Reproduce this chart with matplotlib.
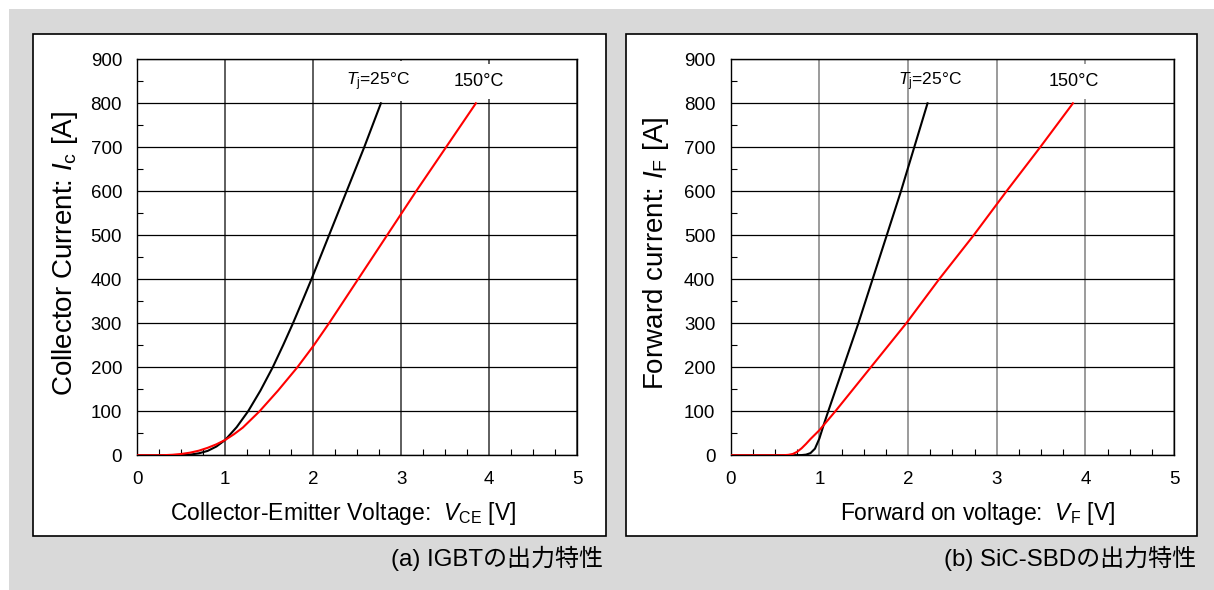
import matplotlib
matplotlib.use("Agg")
import matplotlib.pyplot as plt
from matplotlib.patches import Rectangle
from matplotlib.ticker import MultipleLocator

plt.rcParams['font.family'] = ['Liberation Sans', 'Noto Sans CJK JP', 'DejaVu Sans']
plt.rcParams['mathtext.fontset'] = 'custom'
plt.rcParams['mathtext.rm'] = 'Liberation Sans'
plt.rcParams['mathtext.it'] = 'Liberation Sans:italic'

# ---- data ----
igbt_25_v = [0, 0.3, 0.5, 0.6, 0.7, 0.8, 0.9, 1.0, 1.13, 1.26, 1.40, 1.54, 1.66, 1.77, 1.88, 1.98, 2.18, 2.38, 2.58, 2.77]
igbt_25_i = [0, 0, 0.4, 1.5, 4.5, 10, 20, 35, 64, 100, 147, 200, 251, 300, 352, 400, 500, 600, 700, 800]
igbt_150_v = [0, 0.2, 0.3, 0.4, 0.5, 0.6, 0.7, 0.8, 0.9, 1.0, 1.1, 1.2, 1.39, 1.6, 1.82, 2.0, 2.18, 2.51, 2.84, 3.17, 3.51, 3.85]
igbt_150_i = [0, 0, 0.3, 1.2, 3, 6, 10.5, 17, 25, 35, 48, 63, 100, 147, 200, 248, 300, 400, 500, 600, 700, 800]

sbd_25_v = [0, 0.5, 0.7, 0.8, 0.85, 0.9, 0.95, 1.0, 1.05, 1.10, 1.27, 1.44, 1.60, 1.76, 1.92, 2.07, 2.22]
sbd_25_i = [0, 0, 0.2, 0.5, 1.5, 5, 15, 38, 70, 100, 200, 300, 400, 500, 600, 700, 800]
sbd_150_v = [0, 0.5, 0.6, 0.65, 0.7, 0.75, 0.8, 0.85, 0.9, 0.95, 1.0, 1.18, 1.58, 1.98, 2.35, 2.74, 3.11, 3.49, 3.86]
sbd_150_i = [0, 0, 0.3, 1, 3, 8, 16, 26, 37, 47, 57, 100, 200, 300, 400, 500, 600, 700, 800]

x_ticks = [0, 1, 2, 3, 4, 5]
y_ticks = [0, 100, 200, 300, 400, 500, 600, 700, 800, 900]

label_25 = r'$T_{\mathrm{j}}$=25°C'
label_150 = '150°C'

W, H = 1214, 590
fig = plt.figure(figsize=(W / 100, H / 100), dpi=100)
fig.patch.set_facecolor('white')

def fx(px):
    return px / W

def fy(py):
    return 1 - py / H

# grey background and white panels
fig.add_artist(Rectangle((fx(9), 0), fx(W - 9), fy(9), transform=fig.transFigure,
                         facecolor='#d9d9d9', edgecolor='none', zorder=-2))
for x0, x1 in [(33, 606), (626, 1197)]:
    fig.add_artist(Rectangle((fx(x0), fy(536)), fx(x1 - x0), fy(34) - fy(536),
                             transform=fig.transFigure, facecolor='white',
                             edgecolor='black', linewidth=1.2, zorder=-1))

def make_axes(x0, x1, v25, i25, v150, i150, xlabel, ylabel, xlab_x, ylab_x, vgrid_color, pos25, pos150, box25):
    ax = fig.add_axes([fx(x0), fy(455.3), fx(x1 - x0), fy(59.3) - fy(455.3)])
    ax.set_zorder(1)
    ax.set_facecolor('white')
    ax.set_xlim(x_ticks[0], x_ticks[-1])
    ax.set_ylim(y_ticks[0], y_ticks[-1])
    ax.set_xticks(x_ticks)
    ax.set_yticks(y_ticks)
    ax.xaxis.set_minor_locator(MultipleLocator(0.25))
    ax.yaxis.set_minor_locator(MultipleLocator(50))
    ax.tick_params(which='both', direction='in', top=False, right=False)
    ax.tick_params(which='major', length=0, labelsize=13.5, colors='black')
    ax.tick_params(axis='y', which='major', pad=11)
    ax.tick_params(axis='x', which='major', pad=11)
    ax.tick_params(which='minor', length=4.5, width=0.8)
    ax.grid(axis='y', which='major', color='black', linewidth=0.9)
    ax.grid(axis='x', which='major', color=vgrid_color, linewidth=1.1)
    for s in ax.spines.values():
        s.set_linewidth(1.0)
    ax.plot(v25, i25, color='black', linewidth=1.5, zorder=3)
    ax.plot(v150, i150, color='#ff0000', linewidth=1.5, zorder=3)
    bb = dict(facecolor='white', edgecolor='none', boxstyle='square,pad=0.5')
    ax.text(pos25[0], pos25[1], label_25, fontsize=12.5, ha='center', va='center',
            bbox=bb if box25 else None, zorder=1.8)
    ax.text(pos150[0], pos150[1], label_150, fontsize=13, ha='center', va='center',
            bbox=bb, zorder=1.8)
    ax.set_xlabel(xlabel, fontsize=16.5)
    ax.set_ylabel(ylabel, fontsize=20)
    ax.xaxis.set_label_coords(xlab_x, -0.113)
    ax.yaxis.set_label_coords(ylab_x, 0.51)
    return ax

make_axes(137.3, 577, igbt_25_v, igbt_25_i, igbt_150_v, igbt_150_i,
          r'Collector-Emitter Voltage:  $V_{\mathrm{CE}}$ [V]',
          r'Collector Current: $I_{\mathrm{c}}$ [A]', 0.468, -0.13, '#333333',
          (2.74, 850), (3.88, 850), True)
make_axes(730.7, 1174, sbd_25_v, sbd_25_i, sbd_150_v, sbd_150_i,
          r'Forward on voltage:  $V_{\mathrm{F}}$ [V]',
          r'Forward current: $I_{\mathrm{F}}$ [A]', 0.557, -0.134, '#808080',
          (2.25, 850), (3.87, 850), False)

fig.text(fx(603), fy(558), '(a) IGBTの出力特性', fontsize=17.3, ha='right', va='center')
fig.text(fx(1196), fy(558), '(b) SiC-SBDの出力特性', fontsize=17.3, ha='right', va='center')

fig.savefig('out.png', dpi=100, facecolor=fig.get_facecolor())
